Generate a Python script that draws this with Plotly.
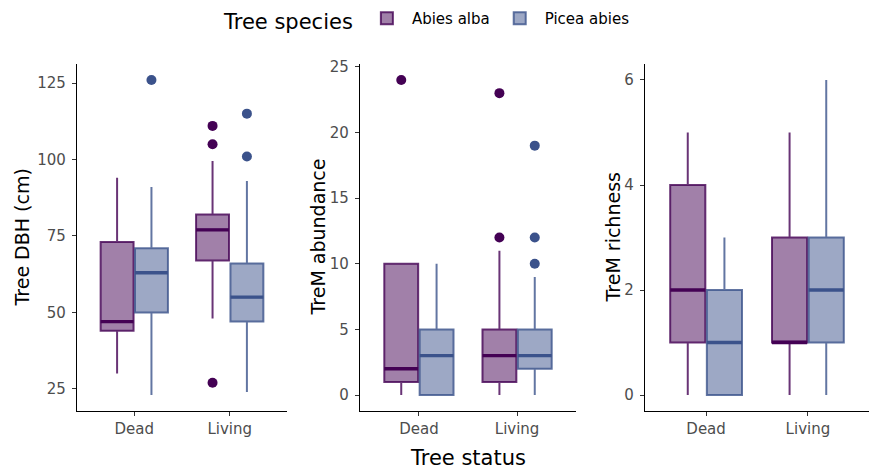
import plotly.graph_objects as go

categories = ["Dead", "Living"]
species = ["Abies alba", "Picea abies"]
tick_positions = [1, 2]

# ---- Tree DBH (cm) ----
dbh_lower = {"Abies alba": [30, 48], "Picea abies": [23, 24]}
dbh_q1 = {"Abies alba": [44, 67], "Picea abies": [50, 47]}
dbh_median = {"Abies alba": [47, 77], "Picea abies": [63, 55]}
dbh_q3 = {"Abies alba": [73, 82], "Picea abies": [71, 66]}
dbh_upper = {"Abies alba": [94, 99.5], "Picea abies": [91, 93]}
dbh_outliers = {"Abies alba": [[], [111, 105, 27]], "Picea abies": [[126], [115, 101]]}

# ---- TreM abundance ----
abu_lower = {"Abies alba": [0, 0], "Picea abies": [0, 0]}
abu_q1 = {"Abies alba": [1, 1], "Picea abies": [0, 2]}
abu_median = {"Abies alba": [2, 3], "Picea abies": [3, 3]}
abu_q3 = {"Abies alba": [10, 5], "Picea abies": [5, 5]}
abu_upper = {"Abies alba": [10, 11], "Picea abies": [10, 9]}
abu_outliers = {"Abies alba": [[24], [12, 23]], "Picea abies": [[], [10, 12, 19]]}

# ---- TreM richness ----
ric_lower = {"Abies alba": [0, 0], "Picea abies": [0, 0]}
ric_q1 = {"Abies alba": [1, 1], "Picea abies": [0, 1]}
ric_median = {"Abies alba": [2, 1], "Picea abies": [1, 2]}
ric_q3 = {"Abies alba": [4, 3], "Picea abies": [2, 3]}
ric_upper = {"Abies alba": [5, 5], "Picea abies": [3, 6]}
ric_outliers = {"Abies alba": [[], []], "Picea abies": [[], []]}

panels = [
    ("Tree DBH (cm)", dbh_lower, dbh_q1, dbh_median, dbh_q3, dbh_upper, dbh_outliers,
     [17.85, 131.15], [25, 50, 75, 100, 125]),
    ("TreM abundance", abu_lower, abu_q1, abu_median, abu_q3, abu_upper, abu_outliers,
     [-1.2, 25.2], [0, 5, 10, 15, 20, 25]),
    ("TreM richness", ric_lower, ric_q1, ric_median, ric_q3, ric_upper, ric_outliers,
     [-0.3, 6.3], [0, 2, 4, 6]),
]

base_rgb = {"Abies alba": (68, 1, 84), "Picea abies": (59, 82, 139)}
offsets = {"Abies alba": -0.18, "Picea abies": 0.18}
box_w = 0.345

FONT = "DejaVu Sans"
x_domains = [[77 / 871, 287 / 871], [360 / 871, 576 / 871], [645 / 871, 869 / 871]]
y_domain = [1 - 410 / 471, 1 - 59 / 471]
title_x = [22 / 871, 318 / 871, 613 / 871]

fig = go.Figure()
layout = {}
for i, (ytitle, lo, q1, med, q3, up, outl, yr, ytv) in enumerate(panels):
    n = "" if i == 0 else str(i + 1)
    xa, ya = "x" + n, "y" + n
    for sp in species:
        r, g, b = base_rgb[sp]
        pos = [p + offsets[sp] for p in tick_positions]
        fig.add_trace(go.Box(
            x=pos, q1=q1[sp], median=med[sp], q3=q3[sp],
            lowerfence=lo[sp], upperfence=up[sp],
            width=box_w, whiskerwidth=0, boxpoints=False,
            fillcolor=f"rgba({r},{g},{b},0.5)",
            line=dict(color=f"rgba({r},{g},{b},0.8)", width=2),
            name=sp, legendgroup=sp, showlegend=(i == 0),
            hoverinfo="skip", xaxis=xa, yaxis=ya,
        ))
        # thicker median segments
        mx, my = [], []
        for p, m in zip(pos, med[sp]):
            mx += [p - box_w / 2, p + box_w / 2, None]
            my += [m, m, None]
        fig.add_trace(go.Scatter(
            x=mx, y=my, mode="lines",
            line=dict(color=f"rgb({r},{g},{b})", width=3.4),
            showlegend=False, hoverinfo="skip", xaxis=xa, yaxis=ya,
        ))
        ox, oy = [], []
        for p, vals in zip(pos, outl[sp]):
            ox += [p] * len(vals)
            oy += vals
        fig.add_trace(go.Scatter(
            x=ox, y=oy, mode="markers",
            marker=dict(color=f"rgb({r},{g},{b})", size=10),
            showlegend=False, hoverinfo="skip", xaxis=xa, yaxis=ya,
        ))
    layout["xaxis" + n] = dict(
        domain=x_domains[i], range=[0.4, 2.6], tickvals=tick_positions, ticktext=categories,
        showline=True, linecolor="black", linewidth=1.3, ticks="outside", ticklen=4,
        tickcolor="#333333", tickwidth=1.2, showgrid=False, zeroline=False,
        tickfont=dict(family=FONT, size=15, color="#4D4D4D"), anchor=ya, fixedrange=True,
    )
    layout["yaxis" + n] = dict(
        domain=y_domain, range=yr, tickvals=ytv,
        showline=True, linecolor="black", linewidth=1.3, ticks="outside", ticklen=4,
        tickcolor="#333333", tickwidth=1.2, showgrid=False, zeroline=False,
        tickfont=dict(family=FONT, size=15, color="#4D4D4D"), anchor=xa,
        ticklabelstandoff=3,
    )

annotations = []
for i, (ytitle, *_rest) in enumerate(panels):
    annotations.append(dict(
        text=ytitle, xref="paper", yref="paper", x=title_x[i], y=1 - 234.5 / 471,
        xanchor="center", yanchor="middle", textangle=-90, showarrow=False,
        font=dict(family=FONT, size=19, color="black"),
    ))
annotations.append(dict(
    text="Tree status", xref="paper", yref="paper", x=468 / 871, y=1 - 458 / 471,
    xanchor="center", yanchor="middle", showarrow=False,
    font=dict(family=FONT, size=21, color="black"),
))

fig.update_layout(
    **layout,
    annotations=annotations,
    width=871, height=471,
    margin=dict(l=0, r=0, t=0, b=0),
    paper_bgcolor="white", plot_bgcolor="white",
    legend=dict(
        orientation="h", x=222 / 871, xanchor="left", y=1 + 4 / 471, yanchor="top",
        title=dict(text="Tree species", side="left", font=dict(family=FONT, size=21, color="black")),
        font=dict(family=FONT, size=15, color="black"),
        itemwidth=40,
        bgcolor="rgba(0,0,0,0)",
    ),
    font=dict(family=FONT),
)

fig.write_html("out.html")
